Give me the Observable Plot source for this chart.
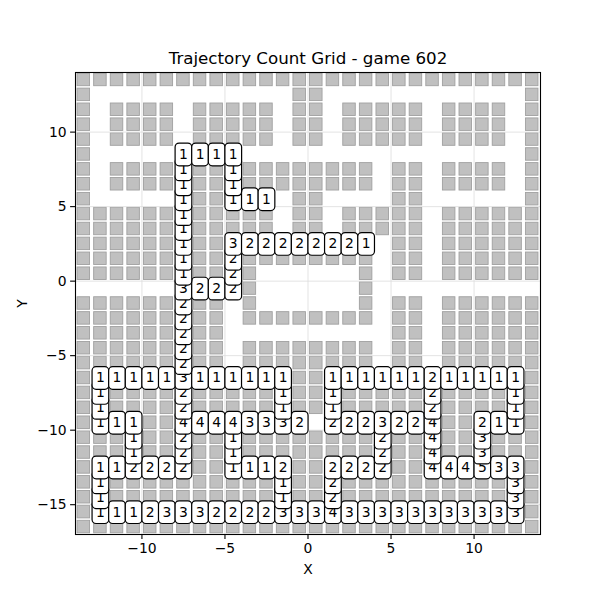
<!DOCTYPE html>
<html><head><meta charset="utf-8">
<script src="https://cdn.jsdelivr.net/npm/d3@7"></script>
<script src="https://cdn.jsdelivr.net/npm/@observablehq/plot@0.6"></script>
<style>body{margin:0;background:white;} svg{display:block}</style>
</head><body><div id="chart"></div>
<script>
const title = "Trajectory Count Grid - game 602";
const xLabel = "X", yLabel = "Y";
const xTicks = [-10, -5, 0, 5, 10];
const yTicks = [-15, -10, -5, 0, 5, 10];
const firstColX = -14;   // x of the first character of each row
const firstRowY = 13;    // y of the first row
// maze walls, '#' = wall cell, rows from y=13 (top) to y=-17 (bottom)
const mazeRows = [
  "############################",
  "#............##............#",
  "#.####.#####.##.#####.####.#",
  "#.####.#####.##.#####.####.#",
  "#.####.#####.##.#####.####.#",
  "#..........................#",
  "#.####.##.########.##.####.#",
  "#.####.##.########.##.####.#",
  "#......##....##....##......#",
  "######.#####.##.#####.######",
  "######.#####.##.#####.######",
  "######.##..........##.######",
  "######.##.########.##.######",
  "######.##.#......#.##.######",
  "..........#......#..........",
  "######.##.#......#.##.######",
  "######.##.########.##.######",
  "######.##..........##.######",
  "######.##.########.##.######",
  "######.##.########.##.######",
  "#............##............#",
  "#.####.#####.##.#####.####.#",
  "#.####.#####.##.#####.####.#",
  "#...##................##...#",
  "###.##.##.########.##.##.###",
  "###.##.##.########.##.##.###",
  "#......##....##....##......#",
  "#.##########.##.##########.#",
  "#.##########.##.##########.#",
  "#..........................#",
  "############################"
];
// trajectory counts per cell, same layout ('.' = no count)
const countRows = [
  "............................",
  "............................",
  "............................",
  "............................",
  "............................",
  "......1111..................",
  "......1..1..................",
  "......1..1..................",
  "......1..111................",
  "......1.....................",
  "......1.....................",
  "......1..322222221..........",
  "......1..2..................",
  "......1..2..................",
  "......3222..................",
  "......2.....................",
  "......2.....................",
  "......2.....................",
  "......2.....................",
  "......2.....................",
  ".111113111111..111111211111.",
  ".1....2.....1..1.....2....1.",
  ".1....2.....1..1.....2....1.",
  ".111..44443332.2223224..211.",
  "...1..2..1........2..4..3...",
  "...1..2..1........2..4..3...",
  ".112222..1112..2222..444533.",
  ".1..........1..2..........3.",
  ".1..........1..2..........3.",
  ".11123332222333433333333333.",
  "............................"
];

const walls = [];
mazeRows.forEach((row, i) => {
  for (let j = 0; j < row.length; j++) if (row[j] === "#") walls.push({x: firstColX + j, y: firstRowY - i});
});
const counts = [];
countRows.forEach((row, i) => {
  for (let j = 0; j < row.length; j++) if (row[j] !== ".") counts.push({x: firstColX + j, y: firstRowY - i, c: +row[j]});
});

const roundBox = {
  draw(ctx) {
    const w = 16.7, h = 22.7, r = 4;
    const x0 = -w / 2, y0 = -h / 2, x1 = w / 2, y1 = h / 2;
    ctx.moveTo(x0 + r, y0);
    ctx.lineTo(x1 - r, y0);
    ctx.arcTo(x1, y0, x1, y0 + r, r);
    ctx.lineTo(x1, y1 - r);
    ctx.arcTo(x1, y1, x1 - r, y1, r);
    ctx.lineTo(x0 + r, y1);
    ctx.arcTo(x0, y1, x0, y1 - r, r);
    ctx.lineTo(x0, y0 + r);
    ctx.arcTo(x0, y0, x0 + r, y0, r);
    ctx.closePath();
  }
};

const rowsY = Array.from(new Set(counts.map(d => d.y))).sort((a, b) => a - b);
const labelMarks = rowsY.flatMap(y => {
  const row = counts.filter(d => d.y === y).sort((a, b) => a.x - b.x);
  return [
    Plot.dot(row, {x: d => d.x + 0.5, y: d => d.y + 0.5, symbol: roundBox, fill: "white", stroke: "black", strokeWidth: 1.2}),
    Plot.text(row, {x: d => d.x + 0.5, y: d => d.y + 0.5, text: d => String(d.c), fontSize: 13.9, fill: "black"})
  ];
});

const chart = Plot.plot({
  width: 600, height: 600,
  marginLeft: 75, marginRight: 60, marginTop: 72, marginBottom: 66,
  style: {fontFamily: "DejaVu Sans", fontSize: "13.9px", background: "white", color: "black"},
  x: {domain: [-14, 14], label: null},
  y: {domain: [-17, 14], label: null},
  marks: [
    Plot.rect(walls, {x1: d => d.x, x2: d => d.x + 1, y1: d => d.y, y2: d => d.y + 1,
      insetLeft: 2.05, insetRight: 2.05, insetTop: 1.2, insetBottom: 1.2,
      fill: "#c0c0c0", stroke: "#a0a0a0", strokeWidth: 0.9}),
    Plot.gridX(xTicks, {stroke: "#dcdcdc", strokeOpacity: 1, strokeWidth: 0.8}),
    Plot.gridY(yTicks, {stroke: "#dcdcdc", strokeOpacity: 1, strokeWidth: 0.8}),
    Plot.frame({stroke: "black", strokeWidth: 1.1}),
    Plot.axisX(xTicks, {tickSize: 4.9, tickPadding: 4, fontSize: 13.9, label: null, stroke: "black", strokeWidth: 1.1}),
    Plot.axisY(yTicks, {tickSize: 4.9, tickPadding: 4, fontSize: 13.9, label: null, stroke: "black", strokeWidth: 1.1}),
    ...labelMarks,
    Plot.text([title], {frameAnchor: "top", dy: -14, fontSize: 16.7, lineAnchor: "middle", textAnchor: "middle", fill: "black"}),
    Plot.text([xLabel], {frameAnchor: "bottom", dy: 35, fontSize: 13.9, lineAnchor: "middle", textAnchor: "middle", fill: "black"}),
    Plot.text([yLabel], {frameAnchor: "left", dx: -53, rotate: -90, fontSize: 13.9, lineAnchor: "middle", textAnchor: "middle", fill: "black"})
  ]
});
document.getElementById("chart").appendChild(chart);
</script>
</body></html>
